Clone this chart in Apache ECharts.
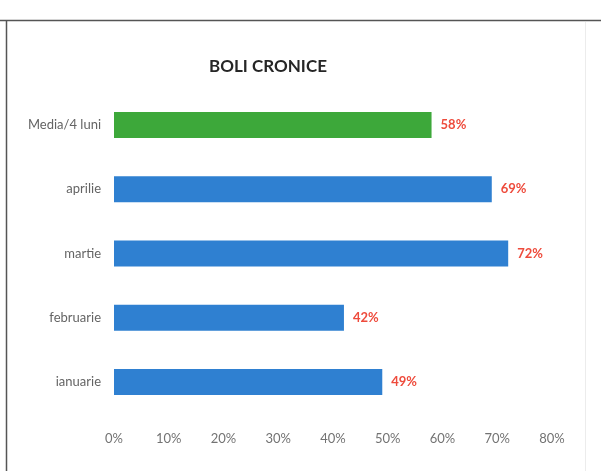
<!DOCTYPE html>
<html>
<head>
<meta charset="utf-8">
<script src="https://cdn.jsdelivr.net/npm/echarts@6/dist/echarts.min.js"></script>
<style>
  html, body { margin: 0; padding: 0; background: #ffffff; }
  #chart { width: 601px; height: 471px; }
</style>
</head>
<body>
<div id="chart"></div>
<script>
// Categories, top to bottom
const categories = ['Media/4 luni', 'aprilie', 'martie', 'februarie', 'ianuarie'];
// Share of chronic illness cases, percent
const values = [58, 69, 72, 42, 49];
// Value axis ticks
const tickValues = [0, 10, 20, 30, 40, 50, 60, 70, 80];

const GREEN = '#3da83a';
const BLUE = '#2f80d1';
const FONT = 'Lato, sans-serif';

const chart = echarts.init(document.getElementById('chart'));
chart.setOption({
  animation: false,
  backgroundColor: '#ffffff',
  title: {
    text: 'BOLI CRONICE',
    left: 263,
    top: 53,
    textAlign: 'center',
    textStyle: { fontFamily: FONT, fontWeight: 'bold', fontSize: 17, color: '#262626' }
  },
  grid: { left: 114, right: 49, top: 93, bottom: 57, containLabel: false },
  xAxis: {
    type: 'value',
    min: tickValues[0],
    max: tickValues[tickValues.length - 1],
    interval: 10,
    axisLine: { show: false },
    axisTick: { show: false },
    splitLine: { show: false },
    axisLabel: {
      formatter: '{value}%',
      margin: 18,
      color: '#737373',
      fontFamily: FONT,
      fontSize: 13
    }
  },
  yAxis: {
    type: 'category',
    data: categories,
    inverse: true,
    axisLine: { show: false },
    axisTick: { show: false },
    axisLabel: { margin: 13, color: '#646464', fontFamily: FONT, fontSize: 13 }
  },
  series: [{
    type: 'bar',
    data: values.map((v, i) => ({ value: v, itemStyle: { color: i === 0 ? GREEN : BLUE } })),
    barWidth: 26,
    label: {
      show: true,
      position: 'right',
      distance: 9,
      formatter: '{c}%',
      color: '#ee4b3c',
      fontWeight: 'bold',
      fontFamily: FONT,
      fontSize: 13
    }
  }],
  graphic: [
    { type: 'line', shape: { x1: 0, y1: 20.5, x2: 601, y2: 20.5 }, style: { stroke: '#555555', lineWidth: 1.5 } },
    { type: 'line', shape: { x1: 6.5, y1: 20, x2: 6.5, y2: 471 }, style: { stroke: '#555555', lineWidth: 1.5 } },
    { type: 'line', shape: { x1: 585.5, y1: 22, x2: 585.5, y2: 471 }, style: { stroke: '#ececec', lineWidth: 1 } }
  ]
});
</script>
</body>
</html>
